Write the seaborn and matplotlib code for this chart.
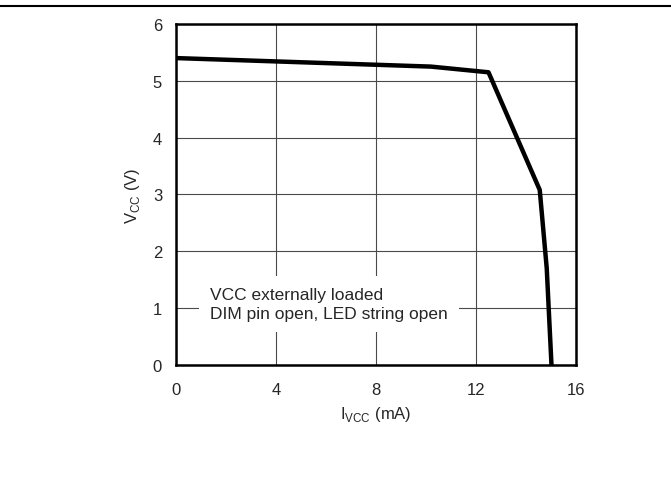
import matplotlib
matplotlib.use("Agg")
import matplotlib.pyplot as plt
import seaborn as sns
import pandas as pd

current_ma = [0.0, 10.2, 12.5, 14.55, 14.83, 15.02]
vcc_v = [5.40, 5.25, 5.15, 3.08, 1.70, 0.0]
x_ticks = [0, 4, 8, 12, 16]
y_ticks = [0, 1, 2, 3, 4, 5, 6]

sns.set_theme(style="white")
plt.rcParams['font.family'] = ['Liberation Sans', 'DejaVu Sans']

fig = plt.figure(figsize=(6.71, 4.85), dpi=100)
ax = fig.add_axes([0.2623, 0.2454, 0.5961, 0.7031])

df = pd.DataFrame({"I": current_ma, "V": vcc_v})
sns.lineplot(data=df, x="I", y="V", ax=ax, color="black", linewidth=3.2,
             sort=False, estimator=None, zorder=5)

ax.set_xlim(0, 16)
ax.set_ylim(0, 6)
ax.set_xticks(x_ticks)
ax.set_yticks(y_ticks)
ax.set_xticklabels([str(t) for t in x_ticks], fontsize=12)
ax.set_yticklabels([str(t) for t in y_ticks], fontsize=12)
ax.tick_params(axis="x", length=0, pad=12)
ax.tick_params(axis="y", length=0, pad=10)
ax.grid(True, color="#4a4a4a", linewidth=0.8)
for s in ax.spines.values():
    s.set_color("black")
    s.set_linewidth(1.8)

ax.set_xlabel(r"I$_{\mathregular{VCC}}$ (mA)", fontsize=12, labelpad=5)
ax.set_ylabel(r"V$_{\mathregular{CC}}$ (V)", fontsize=12, labelpad=8)

ax.text(1.36, 1.07, "VCC externally loaded\nDIM pin open, LED string open",
        fontsize=12.5, ha="left", va="center", linespacing=1.3, zorder=4,
        bbox=dict(facecolor="white", edgecolor="none", pad=8))

fig.add_artist(plt.Line2D([0, 1], [1 - 6.5/485, 1 - 6.5/485], color="black",
                          linewidth=1.5, transform=fig.transFigure))

fig.savefig("out.png", dpi=100, facecolor="white")
